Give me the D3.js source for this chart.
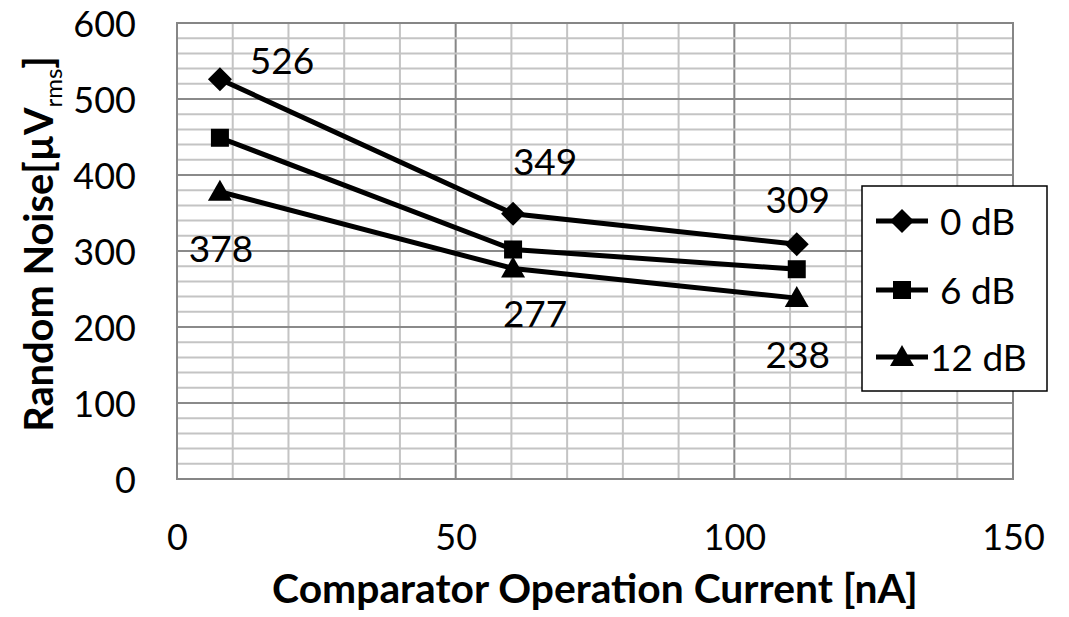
<!DOCTYPE html>
<html><head><meta charset="utf-8">
<script src="https://cdn.jsdelivr.net/npm/d3@7"></script>
<style>body{margin:0;background:#fff}svg{display:block}text{font-family:Lato,"Open Sans",sans-serif}</style>
</head><body><svg id="c" width="1069" height="617"></svg>
<script>
const currents = [7.7, 60.3, 111.2];
const seriesNames = ["0 dB", "6 dB", "12 dB"];
const noise0dB = [526, 349, 309];
const noise6dB = [449, 302, 276];
const noise12dB = [378, 277, 238];
const markers = ["diamond", "square", "triangle"];
const xTicks = [0, 50, 100, 150];
const yTicks = [0, 100, 200, 300, 400, 500, 600];

const series = [noise0dB, noise6dB, noise12dB];
const svg = d3.select("#c");
const L = 177, R = 1013, T = 23, B = 479;
const FS = 37;
const x = d3.scaleLinear().domain([0, 150]).range([L, R]);
const y = d3.scaleLinear().domain([0, 600]).range([B, T]);

// grid
const g = svg.append("g");
g.selectAll(".vx").data(d3.range(0, 151, 10)).join("line")
  .attr("x1", d => x(d)).attr("x2", d => x(d)).attr("y1", T).attr("y2", B)
  .attr("stroke", d => d % 50 === 0 ? "#868686" : "#c4c4c4").attr("stroke-width", 2);
g.selectAll(".hy").data(d3.range(0, 601, 20)).join("line")
  .attr("y1", d => y(d)).attr("y2", d => y(d)).attr("x1", L).attr("x2", R)
  .attr("stroke", d => d % 100 === 0 ? "#8a8a8a" : "#c4c4c4").attr("stroke-width", 2);
svg.append("rect").attr("x", L).attr("y", T).attr("width", R - L).attr("height", B - T)
  .attr("fill", "none").attr("stroke", "#868686").attr("stroke-width", 2);

// axes
const yAxis = svg.append("g").attr("transform", `translate(${L},0)`)
  .call(d3.axisLeft(y).tickValues(yTicks).tickSize(0).tickPadding(41));
const xAxis = svg.append("g").attr("transform", `translate(0,${B})`)
  .call(d3.axisBottom(x).tickValues(xTicks).tickSize(0).tickPadding(45));
[yAxis, xAxis].forEach(a => {
  a.select(".domain").remove();
  a.selectAll("text").attr("font-size", 36).attr("fill", "#000").style("font-family", "Lato, sans-serif");
});
yAxis.selectAll("text").attr("dy", "0.37em");

function fit(t, w) {
  const len = t.node().getComputedTextLength();
  const fs = +t.attr("font-size");
  t.attr("font-size", fs * w / len);
}
// titles
const xt = svg.append("text").attr("x", 595).attr("y", 603).attr("text-anchor", "middle")
  .attr("font-size", 40).attr("font-weight", "bold").text("Comparator Operation Current [nA]");
fit(xt, 646);
const yt = svg.append("text").attr("transform", "translate(53,244) rotate(-90)")
  .attr("text-anchor", "middle").attr("font-size", 36).attr("font-weight", "bold");
yt.append("tspan").text("Random Noise[µV");
yt.append("tspan").attr("font-size", 24).attr("font-weight", "normal").attr("dy", 9).text("rms");
yt.append("tspan").attr("dy", -9).text("]");
fit(yt, 380);

function drawMarker(sel, type, cx, cy) {
  if (type === "diamond") {
    const s = 12;
    sel.append("path").attr("d", `M${cx},${cy - s}L${cx + s},${cy}L${cx},${cy + s}L${cx - s},${cy}Z`).attr("fill", "#000");
  } else if (type === "square") {
    const s = 9;
    sel.append("rect").attr("x", cx - s).attr("y", cy - s).attr("width", 2 * s).attr("height", 2 * s).attr("fill", "#000");
  } else {
    const w = 12;
    sel.append("path").attr("d", `M${cx},${cy - 12}L${cx + w},${cy + 9}L${cx - w},${cy + 9}Z`).attr("fill", "#000");
  }
}

const line = d3.line().x((d, i) => x(currents[i])).y(d => y(d));
series.forEach((s, k) => {
  svg.append("path").datum(s).attr("d", line).attr("fill", "none").attr("stroke", "#000").attr("stroke-width", 5);
  const mg = svg.append("g");
  s.forEach((v, i) => drawMarker(mg, markers[k], x(currents[i]), y(v)));
});

// data labels (offsets from the point, in px)
const lab = svg.append("g").attr("font-size", FS).attr("fill", "#000").attr("text-anchor", "middle");
const off0 = [[62, -5], [32, -39], [1, -31]];
noise0dB.forEach((v, i) => lab.append("text").attr("x", x(currents[i]) + off0[i][0]).attr("y", y(v) + off0[i][1]).text(v));
const off2 = [[1, 70], [22, 59], [1, 70]];
noise12dB.forEach((v, i) => lab.append("text").attr("x", x(currents[i]) + off2[i][0]).attr("y", y(v) + off2[i][1]).text(v));

// legend
const lg = svg.append("g");
lg.append("rect").attr("x", 862).attr("y", 186).attr("width", 185).attr("height", 205)
  .attr("fill", "#fff").attr("stroke", "#000").attr("stroke-width", 1.5);
seriesNames.forEach((n, k) => {
  const cy = [221, 290, 357][k];
  lg.append("line").attr("x1", 876).attr("x2", 928).attr("y1", cy).attr("y2", cy).attr("stroke", "#000").attr("stroke-width", 5);
  drawMarker(lg, markers[k], 902, cy);
  lg.append("text").attr("x", k === 2 ? 930 : 940).attr("y", cy + 14).attr("font-size", FS).text(n);
});
</script></body></html>
